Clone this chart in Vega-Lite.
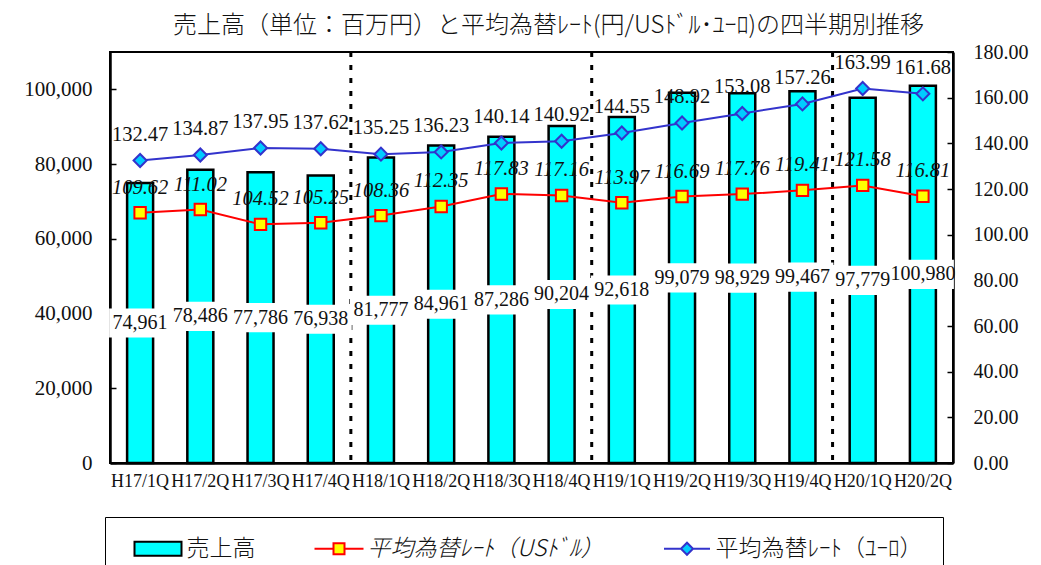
{
  "$schema": "https://vega.github.io/schema/vega-lite/v6.json",
  "width": 843,
  "height": 411,
  "autosize": {"type": "none"},
  "padding": {"left": 110, "top": 52, "right": 88, "bottom": 102},
  "background": "white",
  "title": {
    "text": "売上高（単位：百万円）と平均為替ﾚｰﾄ(円/USﾄﾞﾙ･ﾕｰﾛ)の四半期別推移",
    "font": "Noto Sans CJK JP",
    "fontSize": 24,
    "fontWeight": 300,
    "color": "#111111",
    "frame": "group",
    "offset": 4,
    "dx": 17
  },
  "config": {
    "view": {"stroke": "#000000", "strokeWidth": 2},
    "axis": {
      "labelFont": "Liberation Serif",
      "labelColor": "#111111",
      "domainColor": "#000000",
      "domainWidth": 2.5,
      "tickColor": "#000000",
      "tickWidth": 1.5,
      "grid": false
    },
    "legend": {
      "orient": "none",
      "legendX": -5,
      "legendY": 465,
      "direction": "horizontal",
      "columns": 3,
      "padding": 20,
      "strokeColor": "#000000",
      "fillColor": "#ffffff",
      "symbolSize": 400,
      "symbolOffset": 21.5,
      "symbolStrokeWidth": 2,
      "symbolOpacity": 1,
      "labelFont": "Noto Sans CJK JP",
      "labelFontSize": 23,
      "labelFontWeight": 300,
      "labelColor": "#111111",
      "labelOffset": 17,
      "labelLimit": 400,
      "columnPadding": 50
    }
  },
  "datasets": {
    "quarters": [
      {"q": "H17/1Q", "sales": 74961, "usd": 109.62, "eur": 132.47},
      {"q": "H17/2Q", "sales": 78486, "usd": 111.02, "eur": 134.87},
      {"q": "H17/3Q", "sales": 77786, "usd": 104.52, "eur": 137.95},
      {"q": "H17/4Q", "sales": 76938, "usd": 105.25, "eur": 137.62},
      {"q": "H18/1Q", "sales": 81777, "usd": 108.36, "eur": 135.25},
      {"q": "H18/2Q", "sales": 84961, "usd": 112.35, "eur": 136.23},
      {"q": "H18/3Q", "sales": 87286, "usd": 117.83, "eur": 140.14},
      {"q": "H18/4Q", "sales": 90204, "usd": 117.16, "eur": 140.92},
      {"q": "H19/1Q", "sales": 92618, "usd": 113.97, "eur": 144.55},
      {"q": "H19/2Q", "sales": 99079, "usd": 116.69, "eur": 148.92},
      {"q": "H19/3Q", "sales": 98929, "usd": 117.76, "eur": 153.08},
      {"q": "H19/4Q", "sales": 99467, "usd": 119.41, "eur": 157.26},
      {"q": "H20/1Q", "sales": 97779, "usd": 121.58, "eur": 163.99},
      {"q": "H20/2Q", "sales": 100980, "usd": 116.81, "eur": 161.68}
    ],
    "fiscalYearStarts": [
      {"q": "H18/1Q"},
      {"q": "H19/1Q"},
      {"q": "H20/1Q"}
    ],
    "series": [
      {"s": "売上高"},
      {"s": "平均為替ﾚｰﾄ（USﾄﾞﾙ）"},
      {"s": "平均為替ﾚｰﾄ（ﾕｰﾛ）"}
    ]
  },
  "layer": [
    {
      "data": {"name": "quarters"},
      "mark": {"type": "bar", "width": 26, "fill": "#00ffff", "stroke": "#000000", "strokeWidth": 2.5},
      "encoding": {
        "x": {
          "field": "q",
          "type": "nominal",
          "sort": null,
          "scale": {
            "domain": ["H17/1Q", "H17/2Q", "H17/3Q", "H17/4Q", "H18/1Q", "H18/2Q", "H18/3Q", "H18/4Q", "H19/1Q", "H19/2Q", "H19/3Q", "H19/4Q", "H20/1Q", "H20/2Q"],
            "paddingInner": 0,
            "paddingOuter": 0
          },
          "axis": {"title": null, "labelAngle": 0, "ticks": false, "labelFontSize": 18, "labelPadding": 9}
        },
        "y": {
          "field": "sales",
          "type": "quantitative",
          "scale": {"domain": [0, 110000], "nice": false},
          "axis": {
            "orient": "left",
            "title": null,
            "values": [0, 20000, 40000, 60000, 80000, 100000],
            "format": ",.0f",
            "labelFontSize": 21,
            "tickSize": -6,
            "labelPadding": 24
          }
        }
      }
    },
    {
      "data": {"name": "fiscalYearStarts"},
      "mark": {"type": "rule", "stroke": "#000000", "strokeWidth": 3, "strokeDash": [5, 8]},
      "encoding": {
        "x": {"field": "q", "type": "nominal", "sort": null, "bandPosition": 0}
      }
    },
    {
      "data": {"name": "quarters"},
      "encoding": {
        "x": {"field": "q", "type": "nominal", "sort": null}
      },
      "layer": [
        {
          "mark": {"type": "line", "stroke": "#ff0000", "strokeWidth": 2},
          "encoding": {
            "y": {
              "field": "usd",
              "type": "quantitative",
              "scale": {"domain": [0, 180], "nice": false},
              "axis": {
                "orient": "right",
                "title": null,
                "values": [0, 20, 40, 60, 80, 100, 120, 140, 160, 180],
                "format": ".2f",
                "labelFontSize": 20,
                "tickSize": -6,
                "labelPadding": 26
              }
            }
          }
        },
        {
          "mark": {"type": "line", "stroke": "#3333cc", "strokeWidth": 2},
          "encoding": {
            "y": {"field": "eur", "type": "quantitative", "axis": {"title": null}}
          }
        },
        {
          "mark": {"type": "point", "shape": "square", "size": 130, "filled": true, "fill": "#ffff00", "stroke": "#ff0000", "strokeWidth": 2, "opacity": 1},
          "encoding": {
            "y": {"field": "usd", "type": "quantitative", "axis": {"title": null}}
          }
        },
        {
          "mark": {"type": "point", "shape": "diamond", "size": 170, "filled": true, "fill": "#00ccff", "stroke": "#3333cc", "strokeWidth": 2, "opacity": 1},
          "encoding": {
            "y": {"field": "eur", "type": "quantitative", "axis": {"title": null}}
          }
        },
        {
          "mark": {"type": "text", "font": "Liberation Serif", "fontSize": 20.5, "fontStyle": "italic", "color": "#111111", "baseline": "middle", "dy": -25},
          "encoding": {
            "y": {"field": "usd", "type": "quantitative", "axis": {"title": null}},
            "text": {"field": "usd", "type": "quantitative", "format": ".2f"}
          }
        },
        {
          "mark": {"type": "text", "font": "Liberation Serif", "fontSize": 20.5, "color": "#111111", "baseline": "middle", "dy": -26},
          "encoding": {
            "y": {"field": "eur", "type": "quantitative", "axis": {"title": null}},
            "text": {"field": "eur", "type": "quantitative", "format": ".2f"}
          }
        }
      ]
    },
    {
      "data": {"name": "quarters"},
      "encoding": {
        "x": {"field": "q", "type": "nominal", "sort": null},
        "y": {"field": "sales", "type": "quantitative", "scale": {"domain": [0, 220000], "nice": false}, "axis": null}
      },
      "layer": [
        {
          "mark": {"type": "point", "shape": "M-1,-0.47H1V0.47H-1Z", "size": 3844, "filled": true, "fill": "#ffffff", "strokeWidth": 0, "opacity": 1}
        },
        {
          "mark": {"type": "text", "font": "Liberation Serif", "fontSize": 20, "color": "#111111", "baseline": "middle"},
          "encoding": {
            "text": {"field": "sales", "type": "quantitative", "format": ","}
          }
        }
      ]
    },
    {
      "data": {"name": "series"},
      "mark": {"type": "point", "filled": true, "opacity": 0},
      "encoding": {
        "shape": {
          "field": "s",
          "type": "nominal",
          "scale": {
            "domain": ["売上高", "平均為替ﾚｰﾄ（USﾄﾞﾙ）", "平均為替ﾚｰﾄ（ﾕｰﾛ）"],
            "range": [
              "M-2.35,-0.7H2.35V0.7H-2.35Z",
              "M-2.45,0H-0.55M0.55,0H2.45M-0.55,-0.55H0.55V0.55H-0.55Z",
              "M-2.3,0H-0.6M0.6,0H2.3M-0.6,0L0,-0.6L0.6,0L0,0.6Z"
            ]
          },
          "legend": {
            "title": null,
            "encode": {"labels": {"update": {"fontStyle": {"signal": "datum.value === '平均為替ﾚｰﾄ（USﾄﾞﾙ）' ? 'italic' : 'normal'"}}}}
          }
        },
        "fill": {
          "field": "s",
          "type": "nominal",
          "scale": {
            "domain": ["売上高", "平均為替ﾚｰﾄ（USﾄﾞﾙ）", "平均為替ﾚｰﾄ（ﾕｰﾛ）"],
            "range": ["#00ffff", "#ffff00", "#00ccff"]
          },
          "legend": {
            "title": null,
            "encode": {"labels": {"update": {"fontStyle": {"signal": "datum.value === '平均為替ﾚｰﾄ（USﾄﾞﾙ）' ? 'italic' : 'normal'"}}}}
          }
        },
        "stroke": {
          "field": "s",
          "type": "nominal",
          "scale": {
            "domain": ["売上高", "平均為替ﾚｰﾄ（USﾄﾞﾙ）", "平均為替ﾚｰﾄ（ﾕｰﾛ）"],
            "range": ["#000000", "#ff0000", "#3333cc"]
          },
          "legend": {
            "title": null,
            "encode": {"labels": {"update": {"fontStyle": {"signal": "datum.value === '平均為替ﾚｰﾄ（USﾄﾞﾙ）' ? 'italic' : 'normal'"}}}}
          }
        }
      }
    }
  ],
  "resolve": {"scale": {"y": "independent"}}
}
